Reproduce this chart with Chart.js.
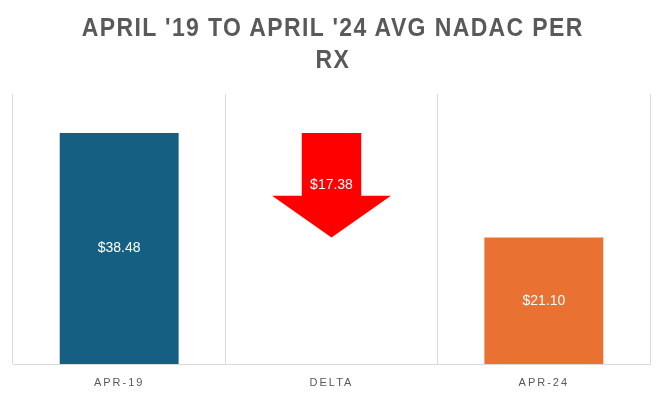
<!DOCTYPE html>
<html>
<head>
<meta charset="utf-8">
<script src="https://cdn.jsdelivr.net/npm/chart.js@4"></script>
<style>
  html, body { margin: 0; padding: 0; background: #fff; }
  #wrap { position: relative; width: 665px; height: 396px; }
  #title {
    position: absolute; left: 0; top: 11px; width: 665px;
    text-align: center; color: #595959;
    font: bold 25px 'Liberation Sans', Arial, sans-serif;
    letter-spacing: 1.5px; line-height: 32px;
  }
  #title span { display: inline-block; transform: scaleX(0.92); transform-origin: center; white-space: nowrap; }
  canvas { position: absolute; left: 0; top: 0; }
</style>
</head>
<body>
<div id="wrap">
  <canvas id="nadacChart" width="665" height="396"></canvas>
  <div id="title"><span>APRIL '19 TO APRIL '24 AVG NADAC PER</span><br><span>RX</span></div>
</div>
<script>
// Chart data
const categories = ["APR-19", "DELTA", "APR-24"];
const barValues = [38.48, null, 21.10];
const deltaRange = [null, [21.10, 38.48], null];
const labelValues = [38.48, 17.38, 21.10];
const barColors = ["#156082", "#FF0000", "#E97132"];

// Letter spacing for the axis labels, none for the bar labels
const spacingPlugin = {
  id: "spacing",
  beforeDraw(chart) {
    chart.ctx.letterSpacing = "2px";
  },
  beforeDatasetsDraw(chart) {
    chart.ctx.letterSpacing = "0px";
  }
};

// Draw the delta bar as a down arrow
const arrowPlugin = {
  id: "arrow",
  afterDatasetDraw(chart, args) {
    if (args.index !== 1) return;
    const ctx = chart.ctx;
    args.meta.data.forEach((bar, i) => {
      if (!deltaRange[i]) return;
      const top = Math.min(bar.y, bar.base);
      const bottom = Math.max(bar.y, bar.base);
      const half = bar.width / 2;
      const shaft = bar.width / 4;
      const headTop = bottom - bar.width * 0.35;
      ctx.save();
      ctx.fillStyle = barColors[i];
      ctx.beginPath();
      ctx.moveTo(bar.x - shaft, top);
      ctx.lineTo(bar.x + shaft, top);
      ctx.lineTo(bar.x + shaft, headTop);
      ctx.lineTo(bar.x + half, headTop);
      ctx.lineTo(bar.x, bottom);
      ctx.lineTo(bar.x - half, headTop);
      ctx.lineTo(bar.x - shaft, headTop);
      ctx.closePath();
      ctx.fill();
      ctx.restore();
    });
  }
};

// Value labels in the middle of each bar
const labelPlugin = {
  id: "labels",
  afterDatasetsDraw(chart) {
    const ctx = chart.ctx;
    ctx.save();
    ctx.letterSpacing = "0px";
    ctx.font = "14px 'Liberation Sans', Arial, sans-serif";
    ctx.fillStyle = "#ffffff";
    ctx.textAlign = "center";
    ctx.textBaseline = "middle";
    chart.data.datasets.forEach((ds, d) => {
      chart.getDatasetMeta(d).data.forEach((bar, i) => {
        if (ds.data[i] === null) return;
        const mid = (bar.y + bar.base) / 2;
        ctx.fillText("$" + labelValues[i].toFixed(2), bar.x, mid);
      });
    });
    ctx.restore();
  }
};

const ctx = document.getElementById("nadacChart").getContext("2d");
const chart = new Chart(ctx, {
  type: "bar",
  data: {
    labels: categories,
    datasets: [
      {
        label: "Avg NADAC per Rx",
        data: barValues,
        backgroundColor: barColors,
        grouped: false,
        barPercentage: 1,
        categoryPercentage: 0.56
      },
      {
        label: "Delta",
        data: deltaRange,
        backgroundColor: "rgba(0,0,0,0)",
        grouped: false,
        barPercentage: 1,
        categoryPercentage: 0.56
      }
    ]
  },
  options: {
    responsive: false,
    animation: false,
    layout: {
      padding: { top: 94, left: 13, right: 15, bottom: 0 }
    },
    plugins: {
      legend: { display: false },
      tooltip: { enabled: false }
    },
    scales: {
      x: {
        afterFit(scale) {
          scale.height = 32;
        },
        grid: {
          offset: true,
          color: "#d9d9d9",
          drawTicks: false
        },
        border: { color: "#d9d9d9" },
        ticks: {
          color: "#595959",
          padding: 12,
          font: { family: "'Liberation Sans', Arial, sans-serif", size: 11 }
        }
      },
      y: {
        display: false,
        min: 0,
        max: 45
      }
    }
  },
  plugins: [spacingPlugin, arrowPlugin, labelPlugin]
});
</script>
</body>
</html>
